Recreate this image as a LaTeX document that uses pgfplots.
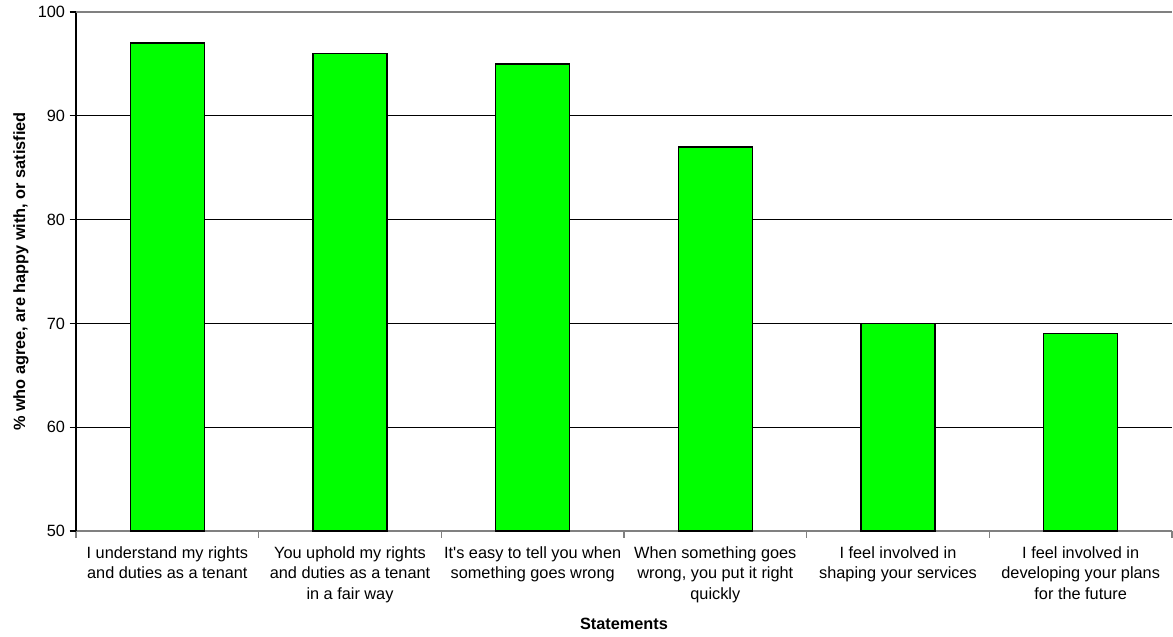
\documentclass[border=0pt]{standalone}
\usepackage{fontspec}
\setmainfont{Liberation Sans}
\usepackage{pgfplots}
\usetikzlibrary{calc}
\pgfplotsset{compat=1.18}
\definecolor{barfill}{RGB}{0,255,0}
\definecolor{axisgray}{RGB}{128,128,128}

\begin{document}
\begin{tikzpicture}
\begin{axis}[
  name=ax,
  scale only axis,
  width=1096bp, height=519bp,
  xmin=-0.5, xmax=5.5,
  ymin=50, ymax=100,
  axis x line*=bottom,
  axis y line*=left,
  x axis line style={axisgray, line width=1.3bp, -},
  y axis line style={black, line width=1.1bp, -},
  tick align=outside,
  major tick length=6.5bp,
  /pgf/number format/assume math mode=true,
  font=\fontsize{16.3bp}{20.5bp}\selectfont,
  % category boundaries carry the tick marks
  xtick={-0.5,0.5,...,5.5},
  xticklabels={},
  x tick style={axisgray, line width=1.1bp},
  y tick style={black, line width=1.1bp},
  % category names sit at the centres
  extra x ticks={0,1,2,3,4,5},
  extra x tick labels={
    {I understand my rights\\and duties as a tenant},
    {You uphold my rights\\and duties as a tenant\\in a fair way},
    {It\textquotesingle s easy to tell you when\\something goes wrong},
    {When something goes\\wrong, you put it right\\quickly},
    {I feel involved in\\shaping your services},
    {I feel involved in\\developing your plans\\for the future}},
  extra x tick style={major tick length=0pt, grid=none,
    tick label style={align=center, yshift=-12bp}},
  ytick={50,60,70,80,90},
  extra y ticks={100},
  extra y tick style={grid style={axisgray, line width=1.3bp}},
  ymajorgrids,
  grid style={black, line width=1bp},
  yticklabel style={xshift=-1bp},
  ylabel={\textbf{\% who agree, are happy with, or satisfied}},
  ylabel style={at={(axis description cs:0,0.5)}, anchor=south, yshift=44bp},
  xlabel={\textbf{Statements}},
  xlabel style={at={(axis description cs:0.5,0)}, anchor=north, yshift=-84bp},
  clip=false,
]
\addplot[ybar, bar width=74bp, fill=barfill, draw=black, line width=1.4bp]
  coordinates {(0,97) (1,96) (2,95) (3,87) (4,70) (5,69)};
\end{axis}
\pgfresetboundingbox
\path[use as bounding box] ($(ax.south west)+(-76bp,-105bp)$) rectangle ($(ax.north east)+(1bp,12bp)$);
\end{tikzpicture}
\end{document}
